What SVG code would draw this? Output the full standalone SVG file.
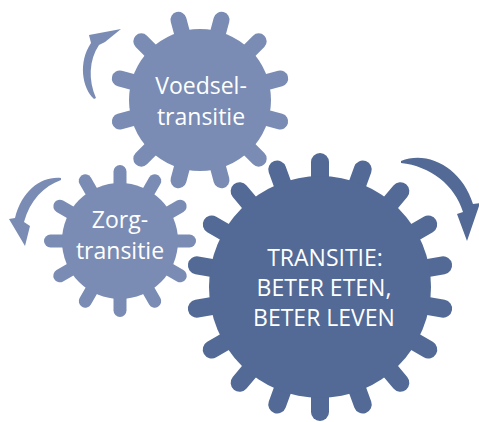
<svg xmlns="http://www.w3.org/2000/svg" width="479" height="422" viewBox="0 0 479 422">
  <style>
    .light { fill: #7a8cb4; }
    .dark { fill: #526a95; }
    .teeth-light line { stroke: #7a8cb4; stroke-linecap: round; }
    .teeth-dark line { stroke: #526a95; stroke-linecap: round; }
    .label { fill: #ffffff; font-family: "Open Sans", "Noto Sans", "DejaVu Sans", sans-serif; font-size: 23px; text-anchor: middle; }
  </style>

  <rect width="479" height="422" fill="#ffffff"/>

  <!-- Rotation arrows (tapered shafts) -->
  <g id="arrows">
    <path class="light" d="M94,99 C82,88 78,62 91,43 L89,35 L121,29 L105,42 L99,45 C89,60 88,80 96,98 Z"/>
    <path class="light" d="M61,178 C42,176 22,190 15,218 L9,219 L25,246 L30,226 L24,222 C30,200 44,186 61,180 Z"/>
    <path class="dark" d="M401,161 C428,150 462,168 473,204 L480,203 L467,241 L457,214 L463,212 C455,185 430,166 401,163 Z"/>
  </g>

  <!-- Gear: food transition -->
  <g id="gear-voedsel">
    <g class="teeth-light" transform="translate(200,100)" stroke-width="16">
      <line x1="0" y1="-60" x2="0" y2="-83" transform="rotate(15)"/>
      <line x1="0" y1="-60" x2="0" y2="-83" transform="rotate(45)"/>
      <line x1="0" y1="-60" x2="0" y2="-83" transform="rotate(75)"/>
      <line x1="0" y1="-60" x2="0" y2="-83" transform="rotate(105)"/>
      <line x1="0" y1="-60" x2="0" y2="-83" transform="rotate(135)"/>
      <line x1="0" y1="-60" x2="0" y2="-83" transform="rotate(165)"/>
      <line x1="0" y1="-60" x2="0" y2="-83" transform="rotate(195)"/>
      <line x1="0" y1="-60" x2="0" y2="-83" transform="rotate(225)"/>
      <line x1="0" y1="-60" x2="0" y2="-83" transform="rotate(255)"/>
      <line x1="0" y1="-60" x2="0" y2="-83" transform="rotate(285)"/>
      <line x1="0" y1="-60" x2="0" y2="-83" transform="rotate(315)"/>
      <line x1="0" y1="-60" x2="0" y2="-83" transform="rotate(345)"/>
    </g>
    <circle class="light" cx="200" cy="100" r="71"/>
    <text class="label" x="201" y="94">Voedsel-</text>
    <text class="label" x="201" y="125">transitie</text>
  </g>

  <!-- Gear: care transition -->
  <g id="gear-zorg">
    <g class="teeth-light" transform="translate(120,241)" stroke-width="13">
      <line x1="0" y1="-50" x2="0" y2="-69.5" transform="rotate(0)"/>
      <line x1="0" y1="-50" x2="0" y2="-69.5" transform="rotate(30)"/>
      <line x1="0" y1="-50" x2="0" y2="-69.5" transform="rotate(60)"/>
      <line x1="0" y1="-50" x2="0" y2="-69.5" transform="rotate(90)"/>
      <line x1="0" y1="-50" x2="0" y2="-69.5" transform="rotate(120)"/>
      <line x1="0" y1="-50" x2="0" y2="-69.5" transform="rotate(150)"/>
      <line x1="0" y1="-50" x2="0" y2="-69.5" transform="rotate(180)"/>
      <line x1="0" y1="-50" x2="0" y2="-69.5" transform="rotate(210)"/>
      <line x1="0" y1="-50" x2="0" y2="-69.5" transform="rotate(240)"/>
      <line x1="0" y1="-50" x2="0" y2="-69.5" transform="rotate(270)"/>
      <line x1="0" y1="-50" x2="0" y2="-69.5" transform="rotate(300)"/>
      <line x1="0" y1="-50" x2="0" y2="-69.5" transform="rotate(330)"/>
    </g>
    <circle class="light" cx="120" cy="241" r="58"/>
    <text class="label" x="120" y="228">Zorg-</text>
    <text class="label" x="120" y="259">transitie</text>
  </g>

  <!-- Gear: main transition -->
  <g id="gear-transitie">
    <g class="teeth-dark" transform="translate(320,287)" stroke-width="18">
      <line x1="0" y1="-100" x2="0" y2="-125" transform="rotate(0)"/>
      <line x1="0" y1="-100" x2="0" y2="-125" transform="rotate(20)"/>
      <line x1="0" y1="-100" x2="0" y2="-125" transform="rotate(40)"/>
      <line x1="0" y1="-100" x2="0" y2="-125" transform="rotate(60)"/>
      <line x1="0" y1="-100" x2="0" y2="-125" transform="rotate(80)"/>
      <line x1="0" y1="-100" x2="0" y2="-125" transform="rotate(100)"/>
      <line x1="0" y1="-100" x2="0" y2="-125" transform="rotate(120)"/>
      <line x1="0" y1="-100" x2="0" y2="-125" transform="rotate(140)"/>
      <line x1="0" y1="-100" x2="0" y2="-125" transform="rotate(160)"/>
      <line x1="0" y1="-100" x2="0" y2="-125" transform="rotate(180)"/>
      <line x1="0" y1="-100" x2="0" y2="-125" transform="rotate(200)"/>
      <line x1="0" y1="-100" x2="0" y2="-125" transform="rotate(220)"/>
      <line x1="0" y1="-100" x2="0" y2="-125" transform="rotate(240)"/>
      <line x1="0" y1="-100" x2="0" y2="-125" transform="rotate(260)"/>
      <line x1="0" y1="-100" x2="0" y2="-125" transform="rotate(280)"/>
      <line x1="0" y1="-100" x2="0" y2="-125" transform="rotate(300)"/>
      <line x1="0" y1="-100" x2="0" y2="-125" transform="rotate(320)"/>
      <line x1="0" y1="-100" x2="0" y2="-125" transform="rotate(340)"/>
    </g>
    <circle class="dark" cx="320" cy="287" r="111"/>
    <text class="label" x="325" y="266">TRANSITIE:</text>
    <text class="label" x="324" y="296">BETER ETEN,</text>
    <text class="label" x="324" y="326">BETER LEVEN</text>
  </g>
</svg>
